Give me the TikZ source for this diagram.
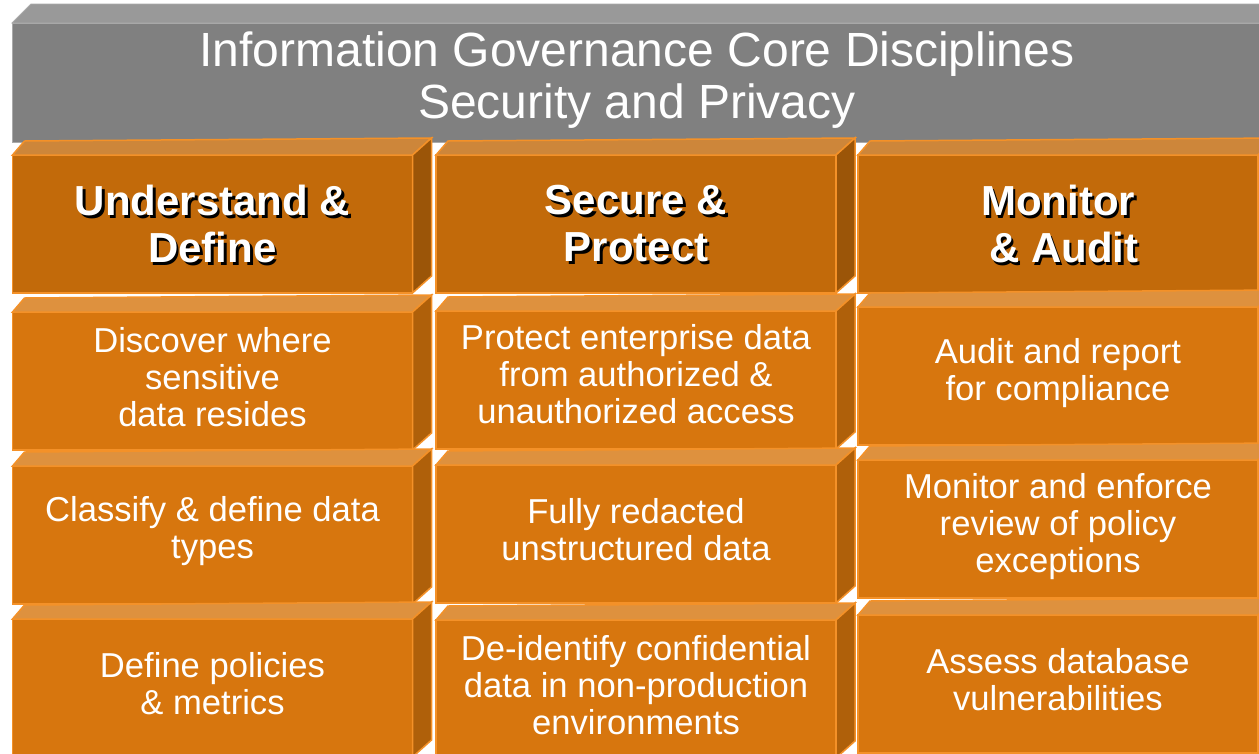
\documentclass[tikz,border=0pt]{standalone}
\usepackage{fontspec}
\setmainfont{Liberation Sans}
\usetikzlibrary{calc}
\definecolor{grayfront}{RGB}{128,128,128}
\definecolor{graytop}{RGB}{153,153,153}
\definecolor{grayedge}{RGB}{170,170,170}
\definecolor{headfront}{RGB}{194,106,10}
\definecolor{headtop}{RGB}{205,134,58}
\definecolor{headside}{RGB}{155,85,8}
\definecolor{bodyfront}{RGB}{215,118,14}
\definecolor{bodytop}{RGB}{222,145,62}
\definecolor{bodyside}{RGB}{175,96,10}
\definecolor{edgeorange}{RGB}{244,145,40}
\tikzset{
	brick/.style={rectangle, inner sep=0pt, outer sep=0pt, line width=1.5pt, draw=edgeorange, minimum width=400pt, minimum height=138pt},
	headbrick/.style={brick, fill=headfront},
	bodybrick/.style={brick, fill=bodyfront},
	graytxt/.style={text=white, font=\fontsize{48}{52}\selectfont, align=center},
	headtxt/.style={text=white, font=\bfseries\fontsize{42}{47}\selectfont, align=center},
	shadowtxt/.style={headtxt, text=black},
	bodytxt/.style={text=white, font=\fontsize{34.6}{37}\selectfont, align=center}
}
\def\brickfaces(#1)[#2][#3]{%
	\filldraw[fill=#2, draw=edgeorange, line width=1.5pt] (#1.north west) -- ++(12,-14) -- ($(#1.north east)+(19,-17)$) -- (#1.north east) -- cycle;
	\filldraw[fill=#3, draw=edgeorange, line width=1.5pt] (#1.north east) -- ++(19,-17) -- ($(#1.south east)+(19,-17)$) -- (#1.south east) -- cycle;}

\begin{document}
\begin{tikzpicture}[x=1pt, y=-1pt]
		%%%%% START %%%%%
		\useasboundingbox (0, 0) rectangle (1259, 753);
		\fill[white] (0, 0) rectangle (1259, 753);
		\clip (0, 0) rectangle (1259, 753);
		
		% grey title block
		\node[rectangle, inner sep=0pt, outer sep=0pt, fill=grayfront, draw=grayedge, line width=0.8pt, minimum width=1260pt, minimum height=119pt] (g) at (642, 82.5) {};
		\filldraw[fill=graytop, draw=grayedge, line width=0.8pt] (g.north west) -- ++(19, -19) -- ($(g.north east)+(19, -19)$) -- (g.north east) -- cycle;
		\node[graytxt] (gt) at (637, 80) {Information Governance Core Disciplines\\Security and Privacy};
		
		% column 1
		\node[headbrick] (h1) at (212.5, 224) {};
		\brickfaces(h1)[headtop][headside]
		\node[shadowtxt] at ($(h1)+(2.5, 2.5)$) {Understand \&\\Define};
		\node[headtxt] (h1t) at (h1) {Understand \&\\Define};
		
		\node[bodybrick] (b11) at (212.5, 381) {};
		\brickfaces(b11)[bodytop][bodyside]
		\node[bodytxt] (b11t) at ($(b11)+(0, -4)$) {Discover where\\sensitive\\data resides};
		
		\node[bodybrick] (b12) at (212.5, 535) {};
		\brickfaces(b12)[bodytop][bodyside]
		\node[bodytxt] (b12t) at ($(b12)+(0, -4)$) {Classify \& define data\\types};
		
		\node[bodybrick] (b13) at (212.5, 688) {};
		\brickfaces(b13)[bodytop][bodyside]
		\node[bodytxt] (b13t) at ($(b13)+(0, -4)$) {Define policies\\\& metrics};
		
		% column 2
		\node[headbrick] (h2) at (636, 224) {};
		\brickfaces(h2)[headtop][headside]
		\node[shadowtxt] at ($(h2)+(2.5, 2.5)$) {Secure \&\\Protect};
		\node[headtxt] (h2t) at (h2) {Secure \&\\Protect};
		
		\node[bodybrick] (b21) at (636, 380) {};
		\brickfaces(b21)[bodytop][bodyside]
		\node[bodytxt] (b21t) at ($(b21)+(0, -6)$) {Protect enterprise data\\from authorized \&\\unauthorized access};
		
		\node[bodybrick] (b22) at (636, 534) {};
		\brickfaces(b22)[bodytop][bodyside]
		\node[bodytxt] (b22t) at ($(b22)+(0, -4)$) {Fully redacted\\unstructured data};
		
		\node[bodybrick] (b23) at (636, 689) {};
		\brickfaces(b23)[bodytop][bodyside]
		\node[bodytxt] (b23t) at ($(b23)+(0, -4)$) {De-identify confidential\\data in non-production\\environments};
		
		% column 3
		\node[headbrick] (h3) at (1058, 224) {};
		\brickfaces(h3)[headtop][headside]
		\node[shadowtxt] at ($(h3)+(2.5, 2.5)$) {Monitor\\\ \& Audit};
		\node[headtxt] (h3t) at (h3) {Monitor\\\ \& Audit};
		
		\node[bodybrick] (b31) at (1058, 376) {};
		\brickfaces(b31)[bodytop][bodyside]
		\node[bodytxt] (b31t) at ($(b31)+(0, -3)$) {Audit and report\\for compliance};
		
		\node[bodybrick] (b32) at (1058, 529) {};
		\brickfaces(b32)[bodytop][bodyside]
		\node[bodytxt] (b32t) at ($(b32)+(0, -2)$) {Monitor and enforce\\review of policy\\exceptions};
		
		\node[bodybrick] (b33) at (1058, 684) {};
		\brickfaces(b33)[bodytop][bodyside]
		\node[bodytxt] (b33t) at ($(b33)+(0, -4)$) {Assess database\\vulnerabilities};
		
		%%%%% END %%%%%
	\end{tikzpicture}
\end{document}
